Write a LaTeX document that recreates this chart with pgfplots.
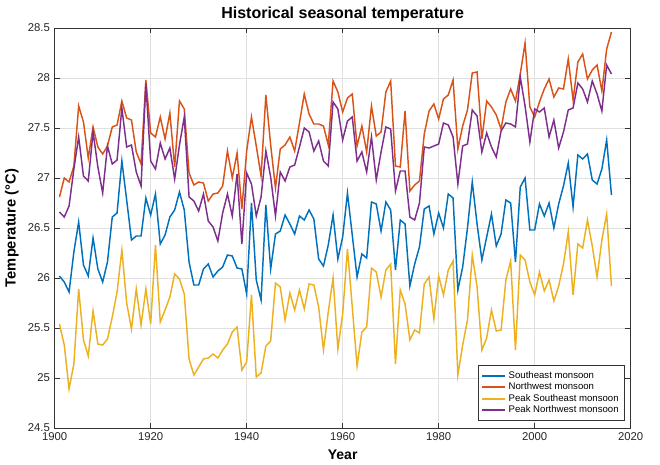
\documentclass[border=0pt]{standalone}
\usepackage{fontspec}
\setmainfont{Liberation Sans}
\usepackage{pgfplots}
\usepackage{pgfplotstable}
\pgfplotsset{compat=1.18}
\definecolor{mblue}{rgb}{0,0.447,0.741}
\definecolor{mred}{rgb}{0.85,0.325,0.098}
\definecolor{myellow}{rgb}{0.929,0.694,0.125}
\definecolor{mpurple}{rgb}{0.494,0.184,0.556}
\pgfplotstableread{
year se nw pse pnw
1901 26.02 26.81 25.54 26.66
1902 25.96 27.00 25.33 26.61
1903 25.86 26.96 24.89 26.72
1904 26.26 27.12 25.14 27.09
1905 26.56 27.72 25.89 27.41
1906 26.13 27.56 25.38 27.02
1907 26.02 27.20 25.22 26.97
1908 26.40 27.51 25.67 27.46
1909 26.09 27.31 25.34 27.11
1910 25.96 27.24 25.33 26.85
1911 26.16 27.32 25.39 27.32
1912 26.61 27.51 25.61 27.14
1913 26.65 27.53 25.86 27.18
1914 27.17 27.77 26.28 27.70
1915 26.78 27.60 25.75 27.31
1916 26.38 27.58 25.49 27.33
1917 26.42 27.26 25.89 27.06
1918 26.42 27.14 25.53 26.92
1919 26.80 27.98 25.89 27.94
1920 26.63 27.45 25.54 27.17
1921 26.84 27.41 26.33 27.09
1922 26.34 27.61 25.56 27.35
1923 26.43 27.39 25.68 27.19
1924 26.61 27.65 25.81 27.30
1925 26.68 27.11 26.04 26.99
1926 26.86 27.77 25.99 27.33
1927 26.68 27.69 25.84 27.61
1928 26.16 27.05 25.19 26.81
1929 25.93 26.93 25.03 26.77
1930 25.93 26.96 25.11 26.67
1931 26.09 26.95 25.19 26.84
1932 26.14 26.77 25.20 26.57
1933 26.01 26.84 25.24 26.51
1934 26.07 26.85 25.20 26.37
1935 26.11 26.92 25.28 26.65
1936 26.23 27.27 25.34 26.84
1937 26.22 27.00 25.46 26.62
1938 26.10 27.25 25.51 27.04
1939 26.09 26.69 25.08 26.34
1940 25.84 27.27 25.16 27.05
1941 26.75 27.61 25.83 26.94
1942 25.98 27.32 25.01 26.62
1943 25.78 27.02 25.05 26.81
1944 26.73 27.83 25.32 27.27
1945 26.09 27.33 25.37 27.01
1946 26.44 26.90 25.95 26.62
1947 26.47 27.29 25.91 27.06
1948 26.63 27.33 25.58 26.97
1949 26.54 27.41 25.85 27.11
1950 26.44 27.27 25.68 27.13
1951 26.62 27.55 25.88 27.31
1952 26.58 27.84 25.69 27.50
1953 26.68 27.64 25.94 27.46
1954 26.59 27.54 25.93 27.27
1955 26.19 27.54 25.71 27.37
1956 26.12 27.52 25.28 27.17
1957 26.33 27.33 25.66 27.12
1958 26.63 27.97 26.00 27.76
1959 26.19 27.86 25.29 27.69
1960 26.41 27.66 25.64 27.38
1961 26.85 27.80 26.29 27.57
1962 26.43 27.84 25.71 27.61
1963 26.01 27.32 25.12 27.17
1964 26.24 27.52 25.46 27.26
1965 26.20 27.26 25.51 27.06
1966 26.76 27.72 26.10 27.41
1967 26.74 27.42 26.06 26.98
1968 26.47 27.46 25.81 27.26
1969 26.76 27.86 26.08 27.51
1970 26.68 27.97 26.14 27.49
1971 26.08 27.12 25.14 26.87
1972 26.58 27.11 25.88 27.07
1973 26.54 27.67 25.74 27.07
1974 25.92 26.87 25.38 26.61
1975 26.14 26.93 25.48 26.58
1976 26.31 26.97 25.45 26.75
1977 26.69 27.44 25.94 27.31
1978 26.72 27.67 26.01 27.30
1979 26.44 27.74 25.59 27.32
1980 26.65 27.59 26.02 27.34
1981 26.50 27.79 25.83 27.55
1982 26.84 27.83 26.08 27.53
1983 26.80 27.98 26.17 27.41
1984 25.88 27.29 25.03 26.94
1985 26.11 27.52 25.33 27.32
1986 26.50 27.68 25.58 27.34
1987 26.96 28.05 26.23 27.68
1988 26.54 28.06 25.91 27.62
1989 26.18 27.39 25.28 27.26
1990 26.41 27.77 25.40 27.45
1991 26.64 27.71 25.68 27.31
1992 26.32 27.63 25.47 27.21
1993 26.44 27.49 25.48 27.47
1994 26.78 27.76 25.98 27.55
1995 26.75 27.89 26.17 27.54
1996 26.16 27.77 25.28 27.51
1997 26.91 28.04 26.23 28.01
1998 27.00 28.35 26.18 27.72
1999 26.48 27.71 25.96 27.36
2000 26.48 27.61 25.83 27.69
2001 26.74 27.76 26.06 27.66
2002 26.62 27.89 25.87 27.70
2003 26.75 27.99 25.98 27.41
2004 26.50 27.81 25.77 27.58
2005 26.74 27.90 25.92 27.30
2006 26.92 27.89 26.14 27.46
2007 27.15 28.19 26.46 27.68
2008 26.71 27.78 25.83 27.70
2009 27.23 28.16 26.34 27.95
2010 27.19 28.24 26.30 27.89
2011 27.24 27.99 26.58 27.76
2012 26.98 28.08 26.32 27.97
2013 26.94 28.13 26.01 27.84
2014 27.09 27.87 26.38 27.67
2015 27.38 28.29 26.64 28.13
2016 26.83 28.46 25.92 28.04
}\datatable
\begin{document}
\begin{tikzpicture}
\begin{axis}[
  scale only axis,
  width=432pt, height=300pt,
  xmin=1900, xmax=2020, ymin=24.5, ymax=28.5,
  xtick={1900,1920,...,2020},
  ytick={24.5,25,...,28.5},
  /pgf/number format/assume math mode=true,
  /pgf/number format/1000 sep={},
  tick label style={font=\fontsize{8.5}{10}\selectfont, color=black!85},
  tick align=inside,
  major tick length=4pt,
  axis line style={black!80, line width=0.5pt},
  tick style={black!80, line width=0.5pt},
  grid=major,
  grid style={black!12, line width=0.4pt},
  title={\bfseries Historical seasonal temperature},
  title style={font=\fontsize{12}{14}\selectfont, yshift=-5pt},
  xlabel={\bfseries Year},
  ylabel={\bfseries Temperature (°C)},
  xlabel style={font=\fontsize{10.5}{12}\selectfont},
  ylabel style={font=\fontsize{11}{12}\selectfont},
  legend style={at={(0.99,0.018)}, anchor=south east, font=\fontsize{7.2}{8.5}\selectfont,
    draw=black!80, row sep=-2.2pt, inner sep=2.5pt, cells={anchor=west}},
  legend image post style={line width=1.6pt},
  legend cell align=left,
]
\addplot[mblue, line width=1.1pt] table[x=year, y=se] {\datatable};
\addplot[mred, line width=1.1pt] table[x=year, y=nw] {\datatable};
\addplot[myellow, line width=1.1pt] table[x=year, y=pse] {\datatable};
\addplot[mpurple, line width=1.1pt] table[x=year, y=pnw] {\datatable};
\legend{Southeast monsoon, Northwest monsoon, Peak Southeast monsoon, Peak Northwest monsoon}
\end{axis}
\pgfresetboundingbox
\path ([shift={(-41pt,-27.5pt)}]current axis.south west) rectangle ([shift={(22pt,21pt)}]current axis.north east);
\end{tikzpicture}
\end{document}
